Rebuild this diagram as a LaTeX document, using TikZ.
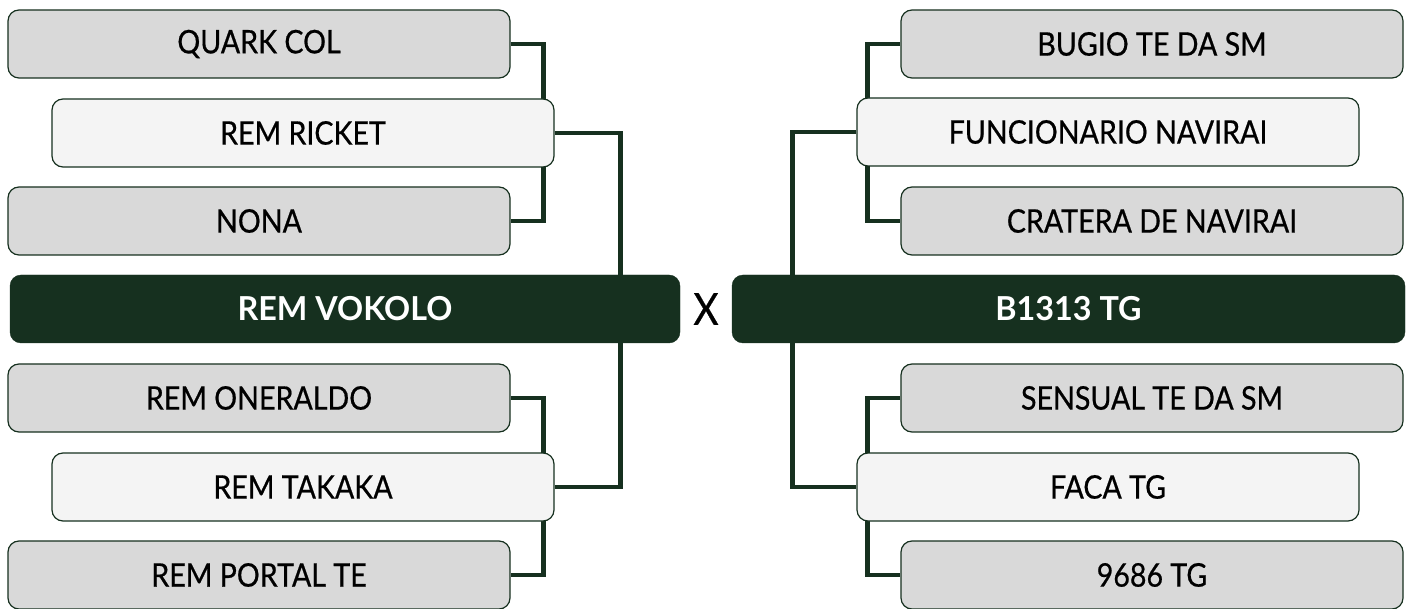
\documentclass[tikz,border=0pt]{standalone}
\usepackage{fontspec}
\setmainfont[FakeStretch=0.88,FakeBold=0.6,BoldFeatures={FakeStretch=0.98,FakeBold=0}]{Lato}
\usetikzlibrary{backgrounds}
\definecolor{dkgreen}{HTML}{16301F}
\definecolor{greybox}{HTML}{D9D9D9}
\definecolor{lightbox}{HTML}{F4F4F4}
\tikzset{
  team/.style={draw=dkgreen, line width=1.2pt, rounded corners=11pt,
    minimum width=502pt, minimum height=68pt, inner sep=0pt,
    font=\fontsize{32.5}{36}\selectfont, text=black},
  greyteam/.style={team, fill=greybox},
  lightteam/.style={team, fill=lightbox},
  finalist/.style={draw=dkgreen, fill=dkgreen, rounded corners=11pt,
    minimum height=68pt, inner sep=0pt, text=white,
    font=\fontsize{33}{36}\selectfont\bfseries},
  conn/.style={draw=dkgreen, line width=4.5pt}
}
\begin{document}
\begin{tikzpicture}[x=1pt,y=-1pt]
\useasboundingbox (0,0) rectangle (1411,609);
% left upper
\node[greyteam]  (quark)   at (259,44)  {QUARK COL};
\node[lightteam] (ricket)  at (303,133) {REM RICKET};
\node[greyteam]  (nona)    at (259,221) {NONA};
% finalists
\node[finalist, minimum width=670pt] (vokolo) at (345,309) {REM VOKOLO};
\node[font=\fontsize{44}{48}\selectfont] (x) at (706,309) {X};
\node[finalist, minimum width=673pt] (b1313) at (1068.5,309) {B1313 TG};
% left lower
\node[greyteam]  (oneraldo) at (259,398) {REM ONERALDO};
\node[lightteam] (takaka)   at (303,487) {REM TAKAKA};
\node[greyteam]  (portal)   at (259,575) {REM PORTAL TE};
% right upper
\node[greyteam]  (bugio)   at (1152,44)  {BUGIO TE DA SM};
\node[lightteam] (func)    at (1108,132) {FUNCIONARIO NAVIRAI};
\node[greyteam]  (cratera) at (1152,221) {CRATERA DE NAVIRAI};
% right lower
\node[greyteam]  (sensual) at (1152,398) {SENSUAL TE DA SM};
\node[lightteam] (faca)    at (1108,487) {FACA TG};
\node[greyteam]  (tg9686)  at (1152,575) {9686 TG};
% connectors
\begin{scope}[on background layer]
\draw[conn] (quark.east) -- ++(33,0) |- (nona.east);
\draw[conn] (ricket.east) -- ++(66,0) |- (takaka.east);
\draw[conn] (oneraldo.east) -- ++(33,0) |- (portal.east);
\draw[conn] (bugio.west) -- ++(-33,0) |- (cratera.west);
\draw[conn] (func.west) -- ++(-64,0) |- (faca.west);
\draw[conn] (sensual.west) -- ++(-33,0) |- (tg9686.west);
\end{scope}
\end{tikzpicture}
\end{document}
